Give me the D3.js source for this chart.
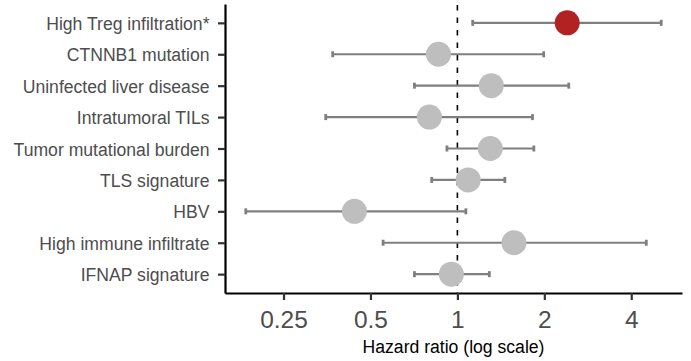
<!DOCTYPE html>
<html><head><meta charset="utf-8">
<script src="https://cdn.jsdelivr.net/npm/d3@7"></script>
<style>body{margin:0;background:#fff}svg{display:block}text{font-family:"Liberation Sans",Arial,sans-serif}</style>
</head><body><svg id="c" width="691" height="361"></svg>
<script>
const categories = ["High Treg infiltration*","CTNNB1 mutation","Uninfected liver disease","Intratumoral TILs","Tumor mutational burden","TLS signature","HBV","High immune infiltrate","IFNAP signature"];
const hr    = [2.40, 0.86, 1.31, 0.80, 1.30, 1.09, 0.44, 1.57, 0.953];
const lower = [1.13, 0.37, 0.71, 0.35, 0.92, 0.815, 0.185, 0.553, 0.71];
const upper = [5.08, 1.99, 2.43, 1.82, 1.84, 1.46, 1.07, 4.51, 1.29];
const significant = [true, false, false, false, false, false, false, false, false];
const xTicks = [0.25, 0.5, 1, 2, 4];
const xTickLabels = ["0.25","0.5","1","2","4"];

const svg = d3.select("#c");
const mLeft = 225, mRight = 682, mTop = 4, mBottom = 293;
const lo = Math.log2(d3.min(lower)), hi = Math.log2(d3.max(upper)), pad = (hi - lo) * 0.05;
const x = d3.scaleLog().base(2).domain([Math.pow(2, lo - pad), Math.pow(2, hi + pad)]).range([mLeft, mRight]);
const y = d3.scalePoint().domain(categories).range([mTop, mBottom]).padding(0.6);

// reference line
svg.append("line").attr("x1", x(1)).attr("x2", x(1)).attr("y1", mTop + 1).attr("y2", mBottom)
  .attr("stroke", "#000").attr("stroke-width", 1.6).attr("stroke-dasharray", "5.5,7");

const rows = categories.map((c, i) => ({c, hr: hr[i], lo: lower[i], hi: upper[i], sig: significant[i]}));
const g = svg.append("g");
rows.forEach(d => {
  const yy = y(d.c);
  g.append("line").attr("x1", x(d.lo)).attr("x2", x(d.hi)).attr("y1", yy).attr("y2", yy)
    .attr("stroke", "#7f7f7f").attr("stroke-width", 2.2);
  [d.lo, d.hi].forEach(v => g.append("line").attr("x1", x(v)).attr("x2", x(v)).attr("y1", yy - 3).attr("y2", yy + 3)
    .attr("stroke", "#7f7f7f").attr("stroke-width", 2.8));
});
rows.forEach(d => {
  g.append("circle").attr("cx", x(d.hr)).attr("cy", y(d.c)).attr("r", 12.5)
    .attr("fill", d.sig ? "#B22222" : "#BEBEBE");
});

// axes
const xa = svg.append("g").attr("transform", `translate(0,${mBottom})`)
  .call(d3.axisBottom(x).tickValues(xTicks).tickFormat((d, i) => xTickLabels[i]).tickSize(7).tickSizeOuter(0));
xa.select(".domain").attr("stroke", "#000").attr("stroke-width", 2.2);
xa.selectAll(".tick line").attr("stroke", "#333").attr("stroke-width", 2.2);
xa.selectAll(".tick text").attr("fill", "#4d4d4d").attr("font-size", 24.5).attr("y", 34.5).attr("dy", null)
  .attr("font-family", '"Liberation Sans",Arial,sans-serif');

const ya = svg.append("g").attr("transform", `translate(${mLeft},0)`)
  .call(d3.axisLeft(y).tickSize(7).tickSizeOuter(0).tickPadding(8.5));
ya.select(".domain").attr("stroke", "#000").attr("stroke-width", 2.2);
ya.selectAll(".tick line").attr("stroke", "#333").attr("stroke-width", 2.2);
ya.selectAll(".tick text").attr("fill", "#4d4d4d").attr("font-size", 17.6).attr("dy", "0.37em")
  .attr("font-family", '"Liberation Sans",Arial,sans-serif');

svg.append("text").attr("x", (mLeft + mRight) / 2).attr("y", 353).attr("text-anchor", "middle")
  .attr("font-size", 17.6).attr("fill", "#000").text("Hazard ratio (log scale)");
</script></body></html>
